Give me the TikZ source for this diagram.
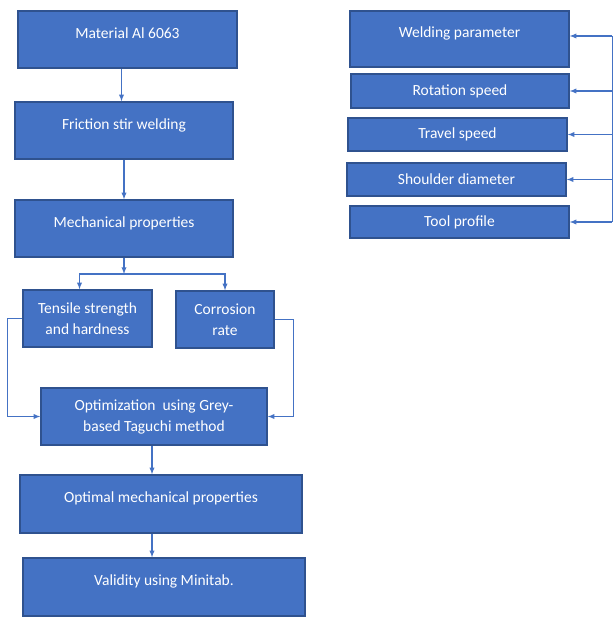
\documentclass[tikz,border=0pt]{standalone}
\usepackage{fontspec}
\setmainfont{Carlito}
\usetikzlibrary{arrows}
\definecolor{boxblue}{HTML}{4472C4}
\definecolor{boxline}{HTML}{2F528F}
\tikzset{
  >=latex,
  flowbox/.style = {draw=boxline, line width=1.3pt, fill=boxblue, text=white,
                    font=\fontsize{15.5}{21}\selectfont, inner sep=0,
                    align=center, minimum height=57pt},
  tallbox/.style = {flowbox, text height=10pt, text depth=12.5pt},
  parambox/.style = {flowbox, minimum height=33pt},
  link/.style = {->, draw=boxblue, line width=1.3pt},
}
\begin{document}
\begin{tikzpicture}[x=1pt,y=-1pt]
\useasboundingbox (0,0) rectangle (613,617);
% left column
\node[tallbox, minimum width=219pt] (material) at (127.5,39.5) {Material Al 6063};
\node[tallbox, minimum width=218pt] (friction) at (124,130.5) {Friction stir welding};
\node[tallbox, minimum width=218pt] (mech) at (124,228.5) {Mechanical properties};
\node[flowbox, minimum width=129pt] (tensile) at (87.5,318.5) {Tensile strength\\and hardness};
\node[flowbox, minimum width=98pt] (corrosion) at (225,319.5) {Corrosion\\rate};
\node[flowbox, minimum width=226pt] (optim) at (154,416.5) {Optimization \ using Grey-\\based Taguchi method};
\node[tallbox, minimum width=282pt, minimum height=58pt] (optimal) at (161,504) {Optimal mechanical properties};
\node[tallbox, minimum width=282pt, minimum height=58pt] (validity) at (164,587) {Validity using Minitab.};
% right column
\node[tallbox, minimum width=219pt, minimum height=56pt] (welding) at (459.5,39) {Welding parameter};
\node[parambox, minimum width=218pt, minimum height=34pt] (rotation) at (460,91) {Rotation speed};
\node[parambox, minimum width=219pt] (travel) at (457.5,134.5) {Travel speed};
\node[parambox, minimum width=219pt] (shoulder) at (456.5,179.5) {Shoulder diameter};
\node[parambox, minimum width=219pt, minimum height=32pt] (tool) at (459.5,222) {Tool profile};
\coordinate (split) at (124,274);
\coordinate (bus) at (612,36);
% connectors
\draw[link] ([xshift=-6pt]material.south) -- ([xshift=-6pt]material.south |- friction.north);
\draw[link] (friction) -- (mech);
\draw[link] (mech) -- (split);
\draw[link] (split) -| ([xshift=-8pt]tensile.north);
\draw[link] (split) -| (corrosion.north);
\draw[link] (tensile.west) -- ++(-15,0) |- (optim.west);
\draw[link] (corrosion.east) -- ++(19,0) |- (optim.east);
\draw[link] ([xshift=-2pt]optim.south) -- ([xshift=-2pt]optim.south |- optimal.north);
\draw[link] ([xshift=-9pt]optimal.south) -- ([xshift=-9pt]optimal.south |- validity.north);
\draw[draw=boxblue, line width=1pt] (bus) -- (bus |- tool.east);
\draw[link] (bus) -- (bus -| welding.east);
\draw[link] (rotation.east -| bus) -- (rotation.east);
\draw[link] (travel.east -| bus) -- (travel.east);
\draw[link] (shoulder.east -| bus) -- (shoulder.east);
\draw[link] (tool.east -| bus) -- (tool.east);
\end{tikzpicture}
\end{document}
